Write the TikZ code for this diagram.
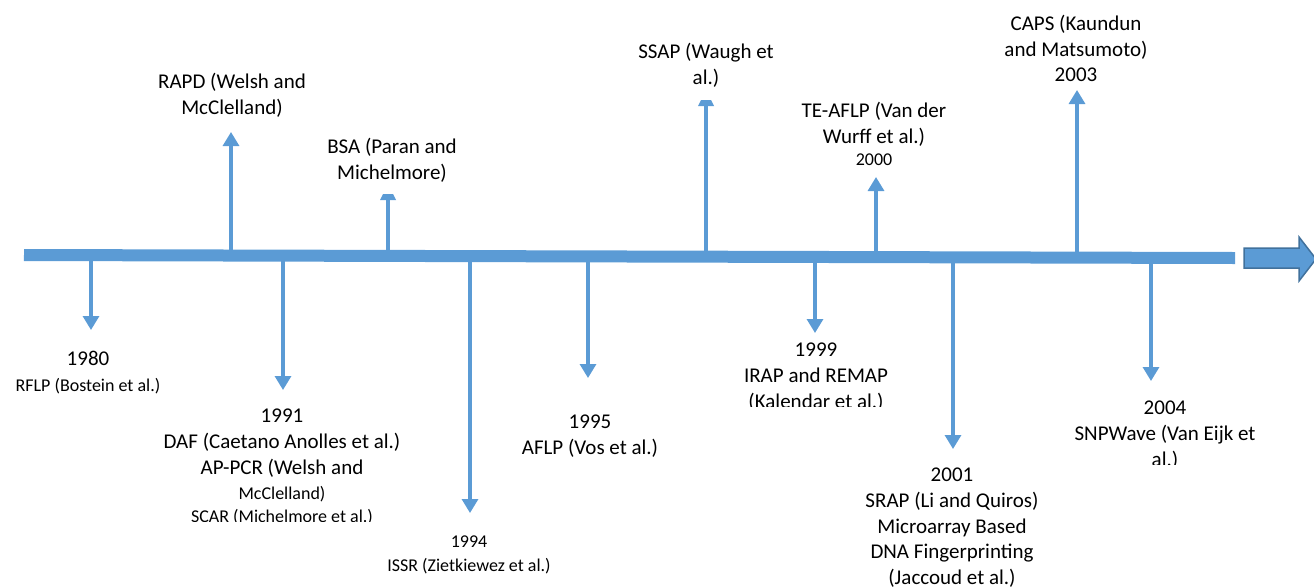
\documentclass[tikz,border=0pt]{standalone}
\usepackage{fontspec}
\setmainfont{Carlito}
\usetikzlibrary{arrows.meta}
\definecolor{lineblue}{HTML}{5B9BD5}
\definecolor{edgeblue}{HTML}{41719C}
\newcommand\sml{\fontsize{18}{22}\selectfont}

\begin{document}
\begin{tikzpicture}[x=1pt,y=-1pt,
  stem/.style={lineblue,line width=3.2pt,-{Triangle[width=16pt,length=14pt]}},
  flat/.style={lineblue,line width=3.2pt},
  lbl/.style={align=center,anchor=north,inner sep=0pt,font=\fontsize{21}{25.6}\selectfont}]
\useasboundingbox (0,0) rectangle (1314,587);
\clip (0,0) rectangle (1314,587);

\foreach \n/\x/\y in {a/91/330, b/283/390, c/470/513, d/588/378, e/815/333, f/953/449, g/1151/381}
{
  \coordinate (s\n) at (\x,256);
  \coordinate (t\n) at (\x,\y);
  \draw[stem] (s\n) -- (t\n);
}

\foreach \n/\x/\y in {h/231/132, m/876/177, k/1077/90}
{
  \coordinate (s\n) at (\x,256);
  \coordinate (t\n) at (\x,\y);
  \draw[stem] (s\n) -- (t\n);
}

\foreach \n/\x/\y in {i/388/194, j/706/100}
{
  \coordinate (s\n) at (\x,256);
  \coordinate (t\n) at (\x,\y);
  \draw[flat] (s\n) -- (t\n);
  \fill[lineblue] (t\n) ++(-5,0) -- ++(10,0) -- ++(3,6) -- ++(-16,0) -- cycle;
}

\coordinate (start) at (24,255);
\coordinate (stop) at (1235,258);
\draw[lineblue,line width=12pt] (start) -- (stop);
\draw[edgeblue,fill=lineblue,line width=1.5pt] (1244,248) -- (1299,248) -- (1299,237)
  -- (1316,259) -- (1299,281) -- (1299,268) -- (1244,268) -- cycle;

\node[lbl] (y1980) at (88,351) {1980\\{\sml RFLP (Bostein et al.)}};
\begin{scope}
\clip (140,400) rectangle (430,521);
\node[lbl] (y1991) at (282,409) {1991\\DAF (Caetano Anolles et al.)\\AP-PCR (Welsh and\\{\sml McClelland)}\\[-3pt]{\sml SCAR (Michelmore et al.)}};
\end{scope}
\node[lbl,font=\sml] (y1994) at (469,536) {1994\\[2pt]ISSR (Zietkiewez et al.)};
\node[lbl] (y1995) at (590,415) {1995\\AFLP (Vos et al.)};
\begin{scope}
\clip (700,330) rectangle (930,406);
\node[lbl] (y1999) at (816,343) {1999\\IRAP and REMAP\\(Kalendar et al.)};
\end{scope}
\node[lbl] (y2001) at (952,468) {2001\\SRAP (Li and Quiros)\\Microarray Based\\DNA Fingerprinting\\(Jaccoud et al.)};
\begin{scope}
\clip (1040,390) rectangle (1290,464);
\node[lbl] (y2004) at (1165,401) {2004\\SNPWave (Van Eijk et\\al.)};
\end{scope}

\node[lbl] (rapd) at (232,73) {RAPD (Welsh and\\McClelland)};
\node[lbl] (bsa) at (392,138) {BSA (Paran and\\Michelmore)};
\node[lbl] (ssap) at (706,43) {SSAP (Waugh et\\al.)};
\node[lbl] (teaflp) at (874,102) {TE-AFLP (Van der\\Wurff et al.)\\[-3pt]{\sml 2000}};
\node[lbl] (caps) at (1076,15) {CAPS (Kaundun\\and Matsumoto)\\2003};
\end{tikzpicture}
\end{document}
